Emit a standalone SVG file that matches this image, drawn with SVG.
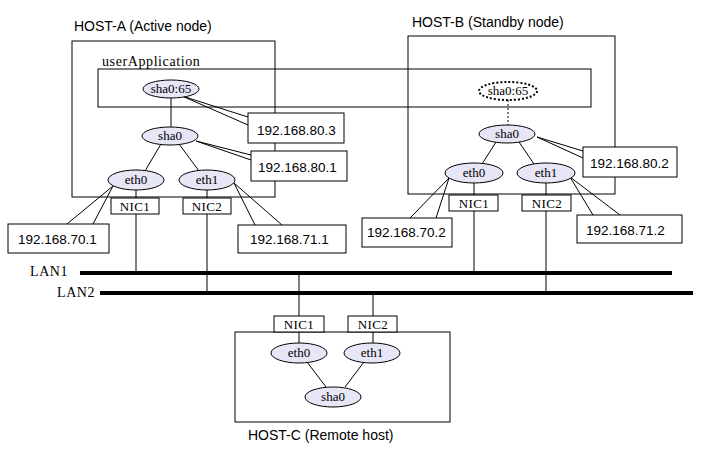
<svg xmlns="http://www.w3.org/2000/svg" width="720" height="469" viewBox="0 0 720 469">
<style>
.box{fill:none;stroke:#000;stroke-width:1}
.wbox{fill:#fff;stroke:#000;stroke-width:1}
.ell{fill:#e6e6f7;stroke:#000;stroke-width:1}
.ln{stroke:#000;stroke-width:1;fill:none}
.lan{stroke:#000;stroke-width:4}
.sans{font-family:"Liberation Sans",Arial,sans-serif;font-size:14px;fill:#000}
.ip{font-family:"Liberation Sans",Arial,sans-serif;font-size:13.5px;fill:#000}
.ser{font-family:"Liberation Serif","Times New Roman",serif;font-size:13px;fill:#000;text-anchor:middle}
.nic{font-family:"Liberation Serif","Times New Roman",serif;font-size:13px;fill:#000;text-anchor:middle;letter-spacing:0.4px}
.lbl{font-family:"Liberation Serif","Times New Roman",serif;font-size:14px;fill:#000;letter-spacing:0.6px}
</style>
<rect width="720" height="469" fill="#fff"/>

<g id="host-a">
<rect class="box" x="72" y="41" width="203" height="156"/>
<text class="sans" x="74" y="31">HOST-A (Active node)</text>
</g>
<g id="host-b">
<rect class="box" x="408" y="36" width="207" height="158"/>
<text class="sans" x="412" y="27">HOST-B (Standby node)</text>
</g>
<g id="userApplication">
<rect class="box" x="98" y="69" width="493" height="38"/>
<text class="lbl" x="102" y="66">userApplication</text>
</g>
<g id="host-c">
<rect class="box" x="235" y="332" width="215" height="90"/>
<text class="sans" x="248" y="440">HOST-C (Remote host)</text>
</g>

<g id="connectors">
<line class="ln" x1="171" y1="98" x2="171" y2="127"/>
<line class="ln" x1="161" y1="144" x2="145" y2="171"/>
<line class="ln" x1="179" y1="144" x2="199" y2="171"/>
<line class="ln" x1="136" y1="190" x2="136" y2="198"/>
<line class="ln" x1="136" y1="214" x2="136" y2="273"/>
<line class="ln" x1="207" y1="190" x2="207" y2="198"/>
<line class="ln" x1="207" y1="214" x2="207" y2="293"/>
<line class="ln" x1="508" y1="100" x2="508" y2="125" stroke-dasharray="2 2" stroke-width="1.5"/>
<line class="ln" x1="496" y1="142" x2="482" y2="164"/>
<line class="ln" x1="519" y1="142" x2="534" y2="164"/>
<line class="ln" x1="474" y1="183" x2="474" y2="195"/>
<line class="ln" x1="474" y1="211" x2="474" y2="273"/>
<line class="ln" x1="546" y1="183" x2="546" y2="195"/>
<line class="ln" x1="546" y1="211" x2="546" y2="293"/>
<line class="ln" x1="299" y1="273" x2="299" y2="316"/>
<line class="ln" x1="373" y1="293" x2="373" y2="316"/>
<line class="ln" x1="299" y1="332" x2="299" y2="343"/>
<line class="ln" x1="373" y1="332" x2="373" y2="343"/>
<line class="ln" x1="307" y1="362" x2="326" y2="387"/>
<line class="ln" x1="364" y1="362" x2="345" y2="387"/>
<line class="lan" x1="80" y1="273" x2="672" y2="273"/>
<line class="lan" x1="100" y1="293" x2="693" y2="293"/>
<polyline class="ln" points="248,117 182,96 248,125"/>
<polyline class="ln" points="251,155 196,141 251,160"/>
<polyline class="ln" points="67,224 113,186 93,224"/>
<polyline class="ln" points="255,225 234,183 282,225"/>
<polyline class="ln" points="583,151 537,137 583,158"/>
<polyline class="ln" points="410,218 449,178 436,218"/>
<polyline class="ln" points="593,215 570,177 620,215"/>
</g>

<g id="lan1"><text class="lbl" x="30" y="276">LAN1</text></g>
<g id="lan2"><text class="lbl" x="57" y="297">LAN2</text></g>

<g id="a-sha0-65"><ellipse class="ell" cx="171" cy="89" rx="28" ry="9"/><text class="ser" x="171" y="93">sha0:65</text></g>
<g id="a-sha0"><ellipse class="ell" cx="170" cy="136" rx="28" ry="9"/><text class="ser" x="170" y="140">sha0</text></g>
<g id="a-eth0"><ellipse class="ell" cx="136" cy="180" rx="28" ry="10"/><text class="ser" x="136" y="184">eth0</text></g>
<g id="a-eth1"><ellipse class="ell" cx="207" cy="180" rx="28" ry="10"/><text class="ser" x="207" y="184">eth1</text></g>
<g id="a-nic1"><rect class="wbox" x="111" y="198" width="48" height="16"/><text class="nic" x="135" y="211">NIC1</text></g>
<g id="a-nic2"><rect class="wbox" x="183" y="198" width="48" height="16"/><text class="nic" x="207" y="211">NIC2</text></g>

<g id="b-sha0-65"><ellipse cx="508" cy="91" rx="29" ry="9" fill="#fff" stroke="#000" stroke-width="2" stroke-dasharray="2 2"/><text class="ser" x="508" y="95">sha0:65</text></g>
<g id="b-sha0"><ellipse class="ell" cx="507" cy="134" rx="28" ry="9"/><text class="ser" x="507" y="138">sha0</text></g>
<g id="b-eth0"><ellipse class="ell" cx="474" cy="173" rx="29" ry="10"/><text class="ser" x="474" y="177">eth0</text></g>
<g id="b-eth1"><ellipse class="ell" cx="546" cy="173" rx="29" ry="10"/><text class="ser" x="546" y="177">eth1</text></g>
<g id="b-nic1"><rect class="wbox" x="449" y="195" width="49" height="16"/><text class="nic" x="474" y="208">NIC1</text></g>
<g id="b-nic2"><rect class="wbox" x="522" y="195" width="49" height="16"/><text class="nic" x="547" y="208">NIC2</text></g>

<g id="c-nic1"><rect class="wbox" x="274" y="316" width="50" height="16"/><text class="nic" x="299" y="329">NIC1</text></g>
<g id="c-nic2"><rect class="wbox" x="348" y="316" width="49" height="16"/><text class="nic" x="373" y="329">NIC2</text></g>
<g id="c-eth0"><ellipse class="ell" cx="299" cy="353" rx="28" ry="10"/><text class="ser" x="299" y="357">eth0</text></g>
<g id="c-eth1"><ellipse class="ell" cx="372" cy="353" rx="28" ry="10"/><text class="ser" x="372" y="357">eth1</text></g>
<g id="c-sha0"><ellipse class="ell" cx="333" cy="397" rx="28" ry="10"/><text class="ser" x="333" y="401">sha0</text></g>

<g id="ip-80-3"><rect class="wbox" x="248" y="113" width="96" height="30"/><text class="ip" x="257" y="135">192.168.80.3</text></g>
<g id="ip-80-1"><rect class="wbox" x="251" y="151" width="96" height="30"/><text class="ip" x="258" y="172">192.168.80.1</text></g>
<g id="ip-70-1"><rect class="wbox" x="8" y="224" width="101" height="29"/><text class="ip" x="18" y="244">192.168.70.1</text></g>
<g id="ip-71-1"><rect class="wbox" x="238" y="225" width="108" height="28"/><text class="ip" x="250" y="244">192.168.71.1</text></g>
<g id="ip-80-2"><rect class="wbox" x="583" y="147" width="94" height="30"/><text class="ip" x="590" y="168">192.168.80.2</text></g>
<g id="ip-70-2"><rect class="wbox" x="362" y="218" width="90" height="29"/><text class="ip" x="367" y="237">192.168.70.2</text></g>
<g id="ip-71-2"><rect class="wbox" x="577" y="215" width="105" height="28"/><text class="ip" x="586" y="235">192.168.71.2</text></g>
</svg>
